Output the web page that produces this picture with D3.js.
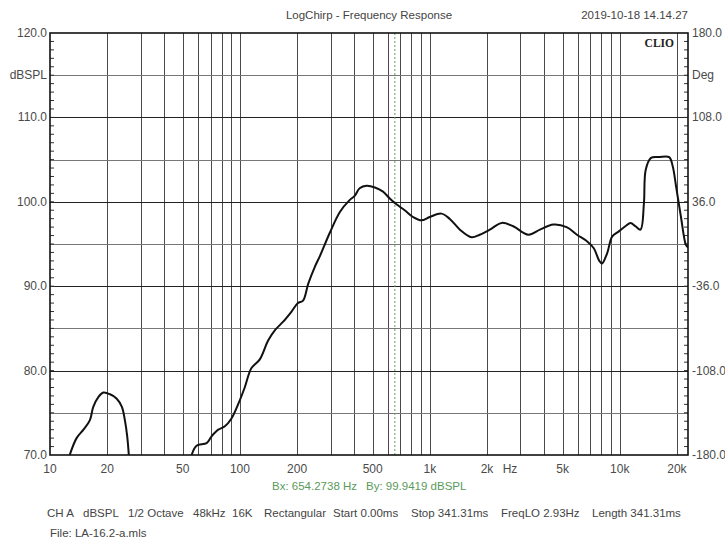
<!DOCTYPE html>
<html>
<head>
<meta charset="utf-8">
<script src="https://cdn.jsdelivr.net/npm/d3@7"></script>
<style>
  body { margin: 0; background: #fff; }
  text { font-family: "Liberation Sans", Arial, sans-serif; }
</style>
</head>
<body>
<div id="chart"></div>
<script>
// Frequency response (Hz / dBSPL); null = below the 70 dB floor
var freqs = [12.7, 13.8, 15.0, 16.2, 16.9, 18.0, 19.1, 20.7, 22.4, 23.9, 24.8, 25.5, 26.0,
  40,
  55.7, 59.1, 66.8, 70.9, 76.9, 83.3, 90.1, 97.8, 106, 115,
  127, 141, 153, 169, 187, 202, 215, 229, 248, 264,
  297, 336, 378, 402, 427, 464, 514, 567, 615, 667,
  737, 815, 903, 1000, 1150, 1270, 1440, 1660, 1830, 2070,
  2390, 2750, 3300, 3800, 4470, 5250, 5950, 6740, 7300, 7800,
  8070, 8580, 9130, 9890, 10700, 11400, 12100, 12860, 13400, 13700,
  14600, 16100, 18200, 19000, 19800, 21000, 22300, 22870];
var spl = [70, 72.0, 73.0, 74.1, 75.7, 76.9, 77.4, 77.2, 76.7, 75.7, 74.1, 72.2, 70,
  null,
  70, 71.1, 71.4, 72.2, 73.0, 73.4, 74.3, 76.0, 78.0, 80.3,
  81.3, 83.6, 84.8, 85.8, 87.0, 88.0, 88.3, 90.3, 92.3, 93.6,
  96.3, 98.8, 100.2, 100.7, 101.6, 101.9, 101.7, 101.2, 100.4, 99.7,
  99.0, 98.2, 97.8, 98.2, 98.6, 98.0, 96.7, 95.8, 96.1, 96.7,
  97.5, 97.1, 96.1, 96.7, 97.3, 97.0, 96.1, 95.3, 94.5, 93.0,
  92.7, 93.9, 95.9, 96.5, 97.1, 97.5, 97.1, 96.7, 99.8, 103.8,
  105.2, 105.3, 105.3, 104.2, 101.8, 98.2, 94.9, 94.6];

var xLabelVals = [10, 20, 50, 100, 200, 500, 1000, 2000, 5000, 10000, 20000];
var xLabelText = ["10", "20", "50", "100", "200", "500", "1k", "2k", "5k", "10k", "20k"];
var leftVals = [120, 115, 110, 100, 90, 80, 70];
var leftText = ["120.0", "dBSPL", "110.0", "100.0", "90.0", "80.0", "70.0"];
var rightVals = [180, 144, 108, 36, -36, -108, -180];
var rightText = ["180.0", "Deg", "108.0", "36.0", "-36.0", "-108.0", "-180.0"];
var footerItems = ["CH A", "dBSPL", "1/2 Octave", "48kHz", "16K", "Rectangular",
  "Start 0.00ms", "Stop 341.31ms", "FreqLO 2.93Hz", "Length 341.31ms"];
var cursorHz = 654.2738, cursorDb = 99.9419;

var W = 725, H = 544;
var L = 50, R = 688, T = 33, B = 455;

var svg = d3.select("#chart").append("svg")
  .attr("width", W).attr("height", H);

var x = d3.scaleLog().domain([10, 22870]).range([L, R]);
var y = d3.scaleLinear().domain([70, 120]).range([B, T]);
var yDeg = d3.scaleLinear().domain([-180, 180]).range([B, T]);

// vertical grid (1-2-3..9 per decade)
var vgrid = x.ticks().filter(function(d) { return d > 10 && d < 22870; });
svg.selectAll(".vg").data(vgrid).enter().append("line")
  .attr("x1", function(d) { return Math.round(x(d)) + 0.5; })
  .attr("x2", function(d) { return Math.round(x(d)) + 0.5; })
  .attr("y1", T).attr("y2", B)
  .attr("stroke", "#4a4a4a").attr("stroke-width", 1);

// horizontal grid every 5 dB
var hgrid = d3.range(75, 120, 5);
svg.selectAll(".hg").data(hgrid).enter().append("line")
  .attr("x1", L).attr("x2", R)
  .attr("y1", function(d) { return Math.round(y(d)) + 0.5; })
  .attr("y2", function(d) { return Math.round(y(d)) + 0.5; })
  .attr("stroke", function(d) { return d % 10 == 0 ? "#222" : "#777"; })
  .attr("stroke-width", 1);

// small 1 dB ticks on both edges
var minor = d3.range(71, 120, 1);
svg.selectAll(".tl").data(minor).enter().append("line")
  .attr("x1", L).attr("x2", L + 4)
  .attr("y1", function(d) { return y(d); }).attr("y2", function(d) { return y(d); })
  .attr("stroke", "#333");
svg.selectAll(".tr").data(minor).enter().append("line")
  .attr("x1", R - 4).attr("x2", R)
  .attr("y1", function(d) { return y(d); }).attr("y2", function(d) { return y(d); })
  .attr("stroke", "#333");

// cursor
svg.append("line")
  .attr("x1", x(cursorHz)).attr("x2", x(cursorHz))
  .attr("y1", T).attr("y2", B)
  .attr("stroke", "#5aa05a").attr("stroke-width", 1)
  .attr("stroke-dasharray", "2,2");

// frame
svg.append("rect")
  .attr("x", L).attr("y", T).attr("width", R - L).attr("height", B - T)
  .attr("fill", "none").attr("stroke", "#111").attr("stroke-width", 1.6);

// curve
svg.append("clipPath").attr("id", "plotclip").append("rect")
  .attr("x", L).attr("y", T).attr("width", R - L).attr("height", B - T);

var pts = freqs.map(function(f, i) { return {f: f, v: spl[i]}; });
var line = d3.line()
  .defined(function(d) { return d.v != null; })
  .x(function(d) { return x(d.f); })
  .y(function(d) { return y(d.v); })
  .curve(d3.curveCatmullRom);

svg.append("path").datum(pts)
  .attr("clip-path", "url(#plotclip)")
  .attr("d", line)
  .attr("fill", "none").attr("stroke", "#111").attr("stroke-width", 2);

// axis labels
svg.selectAll(".ll").data(leftVals).enter().append("text")
  .attr("x", L - 3).attr("y", function(d) { return y(d) + 4; })
  .attr("text-anchor", "end").attr("font-size", 12).attr("fill", "#4a4a4a")
  .text(function(d, i) { return leftText[i]; });

svg.selectAll(".rl").data(rightVals).enter().append("text")
  .attr("x", R + 4).attr("y", function(d) { return yDeg(d) + 4; })
  .attr("font-size", 12).attr("fill", "#4a4a4a")
  .text(function(d, i) { return rightText[i]; });

svg.selectAll(".bl").data(xLabelVals).enter().append("text")
  .attr("x", function(d) { return x(d); }).attr("y", B + 18)
  .attr("text-anchor", "middle").attr("font-size", 12).attr("fill", "#4a4a4a")
  .text(function(d, i) { return xLabelText[i]; });

svg.append("text").attr("x", 510).attr("y", B + 18)
  .attr("text-anchor", "middle").attr("font-size", 12).attr("fill", "#4a4a4a")
  .text("Hz");

// title + date
svg.append("text").attr("x", 369).attr("y", 19)
  .attr("text-anchor", "middle").attr("font-size", 11.5).attr("fill", "#444")
  .text("LogChirp - Frequency Response");
svg.append("text").attr("x", R).attr("y", 19)
  .attr("text-anchor", "end").attr("font-size", 11.5).attr("fill", "#444")
  .text("2019-10-18 14.14.27");

svg.append("text").attr("x", 674).attr("y", 47)
  .attr("text-anchor", "end").attr("font-size", 11.5).attr("font-weight", "bold")
  .style("font-family", "'Liberation Serif', 'DejaVu Serif', serif")
  .attr("fill", "#222").text("CLIO");

// cursor readout
svg.append("text").attr("x", 272).attr("y", 490)
  .attr("font-size", 11.5).attr("fill", "#5a9a5a")
  .text("Bx: " + cursorHz.toFixed(4) + " Hz");
svg.append("text").attr("x", 366).attr("y", 490)
  .attr("font-size", 11.5).attr("fill", "#5a9a5a")
  .text("By: " + cursorDb.toFixed(4) + " dBSPL");

// footer
var footX = [47, 83, 128, 193, 232, 264, 333, 411, 501, 592];
svg.selectAll(".ft").data(footerItems).enter().append("text")
  .attr("x", function(d, i) { return footX[i]; }).attr("y", 517)
  .attr("font-size", 11.5).attr("fill", "#444")
  .text(function(d) { return d; });
svg.append("text").attr("x", 50).attr("y", 537)
  .attr("font-size", 11.5).attr("fill", "#444")
  .text("File: LA-16.2-a.mls");
</script>
</body>
</html>
